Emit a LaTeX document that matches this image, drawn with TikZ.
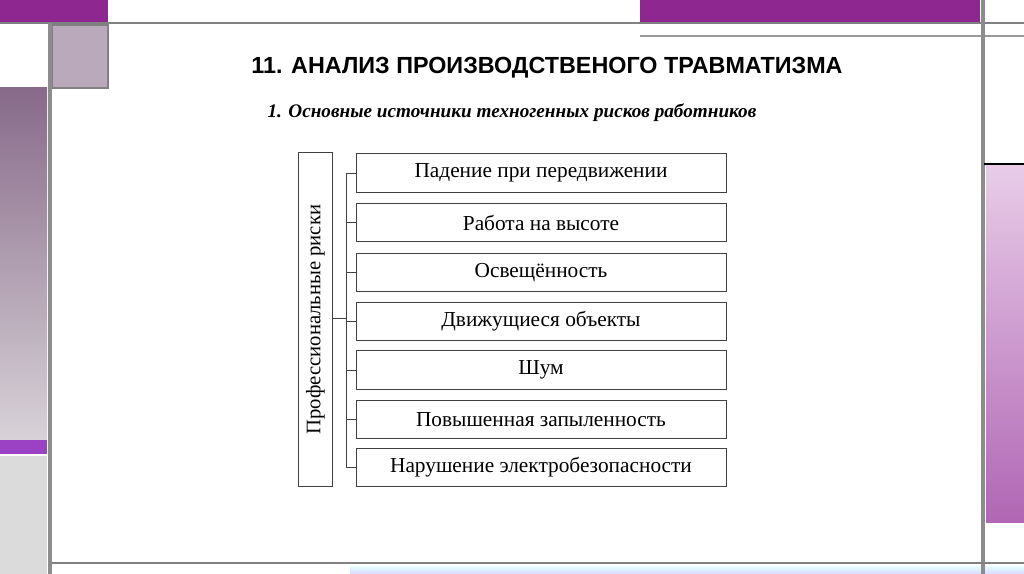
\documentclass[tikz,border=0pt]{standalone}
\usepackage{fontspec}
\setmainfont{Liberation Serif}
\newfontfamily\titlefont{Liberation Sans}
\definecolor{mag}{HTML}{8E2790}
\definecolor{mauve}{HTML}{B9A9BA}
\definecolor{striptop}{HTML}{876A89}
\definecolor{stripbot}{HTML}{D8D2D8}
\definecolor{band}{HTML}{9B42C4}
\definecolor{pinktop}{HTML}{E8CCE8}
\definecolor{pinkbot}{HTML}{B066B4}
\begin{document}
\begin{tikzpicture}[x=0.75pt,y=-0.75pt,
  riskbox/.style={draw=black!75,line width=0.6pt,minimum width=277.5pt,minimum height=29pt,inner sep=0pt,font=\fontsize{16}{18}\selectfont},
  frame/.style={draw=gray!90,line width=3pt}]
\useasboundingbox (0,0) rectangle (1024,574);
\fill[white] (0,0) rectangle (1024,574);
% decorative frame
\fill[mag] (0,0) rectangle (108,22);
\fill[mag] (640,0) rectangle (980,22);
\fill[top color=striptop, bottom color=stripbot] (0,88) rectangle (47,440);
\fill[band] (0,440) rectangle (47,454);
\fill[gray!28] (0,456) rectangle (47,574);
\fill[mauve, draw=gray, line width=1pt] (52,25) rectangle (108,88);
\fill[top color=pinktop, bottom color=pinkbot] (986,166) rectangle (1024,522);
\fill[top color=cyan!10!white, bottom color=blue!15!white] (350,566) rectangle (1024,574);
\draw[gray,line width=1.5pt] (0,23) -- (1024,23);
\draw[gray!80,line width=1pt] (640,36) -- (1024,36);
\draw[frame] (50,23) -- (50,574);
\draw[frame] (983,0) -- (983,574);
\draw[gray,line width=2pt] (52,563) -- (1024,563);
\draw[black,line width=1.5pt] (984,164) -- (1024,164);
% titles
\node (title) at (547,68) {\titlefont\bfseries\fontsize{17.5}{20}\selectfont 11. АНАЛИЗ ПРОИЗВОДСТВЕНОГО ТРАВМАТИЗМА};
\node (sub) at (512,113) {\bfseries\itshape\fontsize{14.4}{16}\selectfont 1. Основные источники техногенных рисков работников};
% diagram
\node[draw=black!75,line width=0.6pt,minimum width=25.5pt,minimum height=250pt,inner sep=0pt] (main) at (315.5,319.5) {};
\node[rotate=90,font=\fontsize{15.5}{17}\selectfont] at (main.center) {Профессиональные риски};
\foreach \n/\y/\t in {1/173/Падение при передвижении,2/222.5/Работа на высоте,3/272.5/Освещённость,4/321.5/Движущиеся объекты,5/370/Шум,6/419.5/Повышенная запыленность,7/467.5/Нарушение электробезопасности}{
  \node[riskbox] (b\n) at (541,\y) {\t};
  \draw[black!75,line width=0.6pt] (b\n.west) -- ++(-10,0);
}
\coordinate (bt) at (346,173);
\coordinate (bb) at (346,467.5);
\draw[black!75,line width=0.6pt] (bt) -- (bb);
\draw[black!75,line width=0.6pt] (main.east |- 0,318) -- (346,318);
\end{tikzpicture}
\end{document}
